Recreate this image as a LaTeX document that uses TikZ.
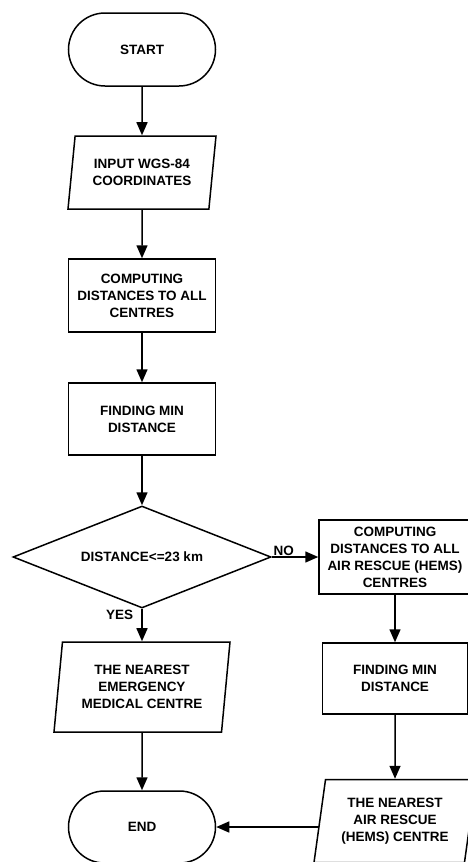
\documentclass[tikz,border=0pt]{standalone}
\usepackage{fontspec}
\setmainfont{Liberation Sans}
\usetikzlibrary{shapes.geometric, shapes.misc, arrows.meta, positioning, calc}

\tikzset{
  base/.style={draw, line width=1.5pt, inner sep=0pt, align=center,
    font=\bfseries\fontsize{13.5}{17}\selectfont},
  terminal/.style={base, rounded rectangle, minimum width=147pt, minimum height=73pt},
  process/.style={base, rectangle, minimum width=147pt, minimum height=73pt},
  io/.style={base, trapezium, trapezium left angle=75, trapezium right angle=105,
    trapezium stretches body, minimum width=148pt, minimum height=73pt},
  decision/.style={base, diamond, aspect=2.53, minimum width=258pt, minimum height=102pt},
  arr/.style={-{Triangle[width=11pt,length=13pt]}, line width=1.5pt},
  lbl/.style={font=\bfseries\fontsize{13.5}{15}\selectfont, inner sep=1pt}
}

\begin{document}
\begin{tikzpicture}[x=1pt, y=-1pt]
\clip (0,0) rectangle (468,862);

% Main column
\node[terminal] (start) at (142,49.5) {START};
\node[io] (input) at (142,172.5) {INPUT WGS-84\\COORDINATES};
\node[process] (comp) at (142,295.5) {COMPUTING\\DISTANCES TO ALL\\CENTRES};
\node[process, minimum height=72pt] (findmin) at (142,419) {FINDING MIN\\DISTANCE};
\node[decision] (dist) at (142,557) {DISTANCE<=23 km};
\node[io, trapezium left angle=79, trapezium right angle=101,
  minimum width=176pt, minimum height=90pt] (nearest) at (142,687)
  {THE NEAREST\\EMERGENCY\\MEDICAL CENTRE};
\node[terminal, minimum height=72pt] (stop) at (142,827) {END};

% Air rescue branch
\node[process, minimum width=152pt, minimum height=74pt] (hemscomp) at (395,557)
  {COMPUTING\\DISTANCES TO ALL\\AIR RESCUE (HEMS)\\CENTRES};
\node[process, minimum width=145pt, minimum height=71pt] (hemsmin) at (395,678.5)
  {FINDING MIN\\DISTANCE};
\node[io, trapezium left angle=76, trapezium right angle=104,
  minimum width=162pt, minimum height=83pt] (hemsnear) at (395,821)
  {THE NEAREST\\AIR RESCUE\\(HEMS) CENTRE};

% Connectors
\draw[arr] (start) -- (input);
\draw[arr] (input) -- (comp);
\draw[arr] (comp) -- (findmin);
\draw[arr] (findmin) -- (dist);
\draw[arr] (dist) -- (nearest) node[lbl, pos=0, below left, xshift=-7pt] {YES};
\draw[arr] (nearest) -- (stop);
\draw[arr] (dist) -- (hemscomp) node[lbl, pos=0, above right] {NO};
\draw[arr] (hemscomp) -- (hemsmin);
\draw[arr] (hemsmin) -- (hemsnear);
\draw[arr] (stop.east -| hemsnear.west) -- (stop.east);
\end{tikzpicture}
\end{document}
